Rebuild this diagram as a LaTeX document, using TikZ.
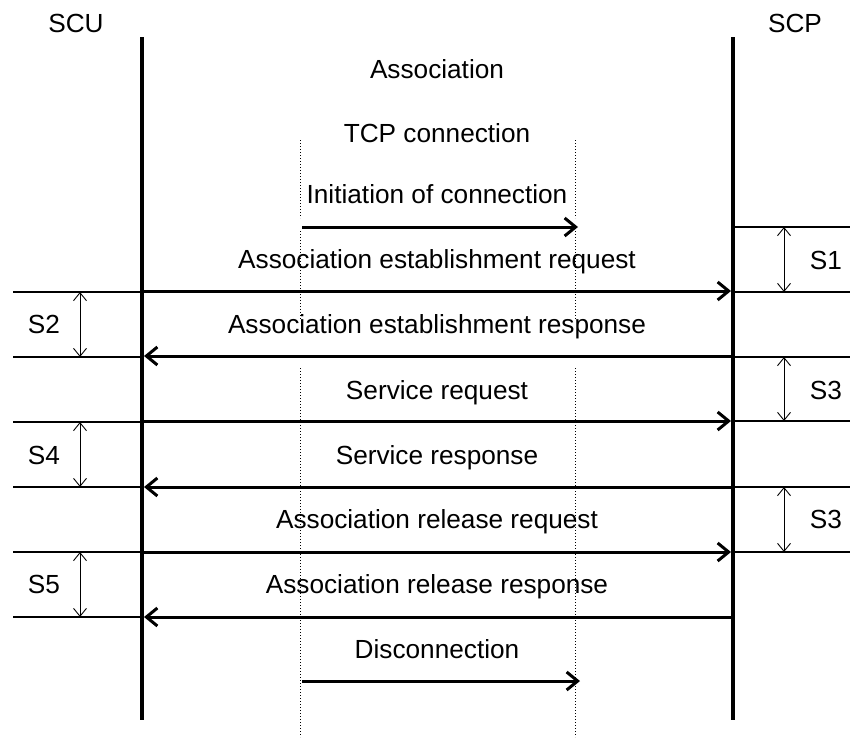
\documentclass[tikz,border=0pt]{standalone}
\usepackage{fontspec}
\setmainfont{Liberation Sans}
\usepackage{tikz}
\usetikzlibrary{arrows.meta}

\begin{document}
\begin{tikzpicture}[x=1pt,y=-1pt]
\tikzstyle{life}=[line width=4pt]
\tikzstyle{msg}=[line width=3pt,-{Straight Barb[length=11pt,width=18pt]}]
\tikzstyle{tcp}=[dotted,line width=1pt]
\tikzstyle{tick}=[line width=2pt]
\tikzstyle{gap}=[line width=0.9pt,{Straight Barb[length=8pt,width=13pt]}-{Straight Barb[length=8pt,width=13pt]}]
\tikzstyle{lbl}=[anchor=base,inner sep=0pt,font=\fontsize{26.2}{30}\selectfont]

\useasboundingbox (0,0) rectangle (850,737);
%
\coordinate (scuTop) at (142,37);
\coordinate (scuBot) at (142,720);
\coordinate (scpTop) at (733,37);
\coordinate (scpBot) at (733,720);
\node[lbl](scu) at (76,32){SCU};
\node[lbl](scp) at (795,32){SCP};
\draw[life] (scuTop) -- (scuBot);
\draw[life] (scpTop) -- (scpBot);
%
\draw[tcp] (300,140) -- (300,218) (300,231) -- (300,320) (300,368) -- (300,737);
\draw[tcp] (575,140) -- (575,218) (575,231) -- (575,320) (575,368) -- (575,737);
%
\node[lbl](assoc) at (437,78){Association};
\node[lbl](tcpc) at (437,142){TCP connection};
%
\coordinate (init0) at (302,227);
\coordinate (init1) at (578,227);
\coordinate (req0) at (144,291);
\coordinate (req1) at (731,291);
\coordinate (res0) at (731,356);
\coordinate (res1) at (144,356);
\coordinate (sreq0) at (144,421);
\coordinate (sreq1) at (731,421);
\coordinate (sres0) at (731,487);
\coordinate (sres1) at (144,487);
\coordinate (rel0) at (144,552);
\coordinate (rel1) at (731,552);
\coordinate (rres0) at (731,617);
\coordinate (rres1) at (144,617);
\coordinate (disc0) at (302,681);
\coordinate (disc1) at (580,681);
%
\draw[msg] (init0) -- (init1);
\draw[msg] (req0) -- (req1);
\draw[msg] (res0) -- (res1);
\draw[msg] (sreq0) -- (sreq1);
\draw[msg] (sres0) -- (sres1);
\draw[msg] (rel0) -- (rel1);
\draw[msg] (rres0) -- (rres1);
\draw[msg] (disc0) -- (disc1);
%
\node[lbl] at (437,203){Initiation of connection};
\node[lbl] at (437,268){Association establishment request};
\node[lbl] at (437,333){Association establishment response};
\node[lbl] at (437,399){Service request};
\node[lbl] at (437,464){Service response};
\node[lbl] at (437,528){Association release request};
\node[lbl] at (437,593){Association release response};
\node[lbl] at (437,658){Disconnection};
%
\foreach \y in {227,292,357,421,487,552} \draw[tick] (735,\y) -- (850,\y);
\foreach \y in {292,357,422,487,552,617} \draw[tick] (13,\y) -- (142,\y);
%
\draw[gap] (784,227) -- (784,292);
\draw[gap] (784,357) -- (784,421);
\draw[gap] (784,487) -- (784,552);
\draw[gap] (80,292) -- (80,357);
\draw[gap] (80,422) -- (80,487);
\draw[gap] (80,552) -- (80,617);
\node[lbl] at (826,269){S1};
\node[lbl] at (826,399){S3};
\node[lbl] at (826,528){S3};
\node[lbl] at (44,333){S2};
\node[lbl] at (44,464){S4};
\node[lbl] at (44,593){S5};
\end{tikzpicture}
\end{document}
